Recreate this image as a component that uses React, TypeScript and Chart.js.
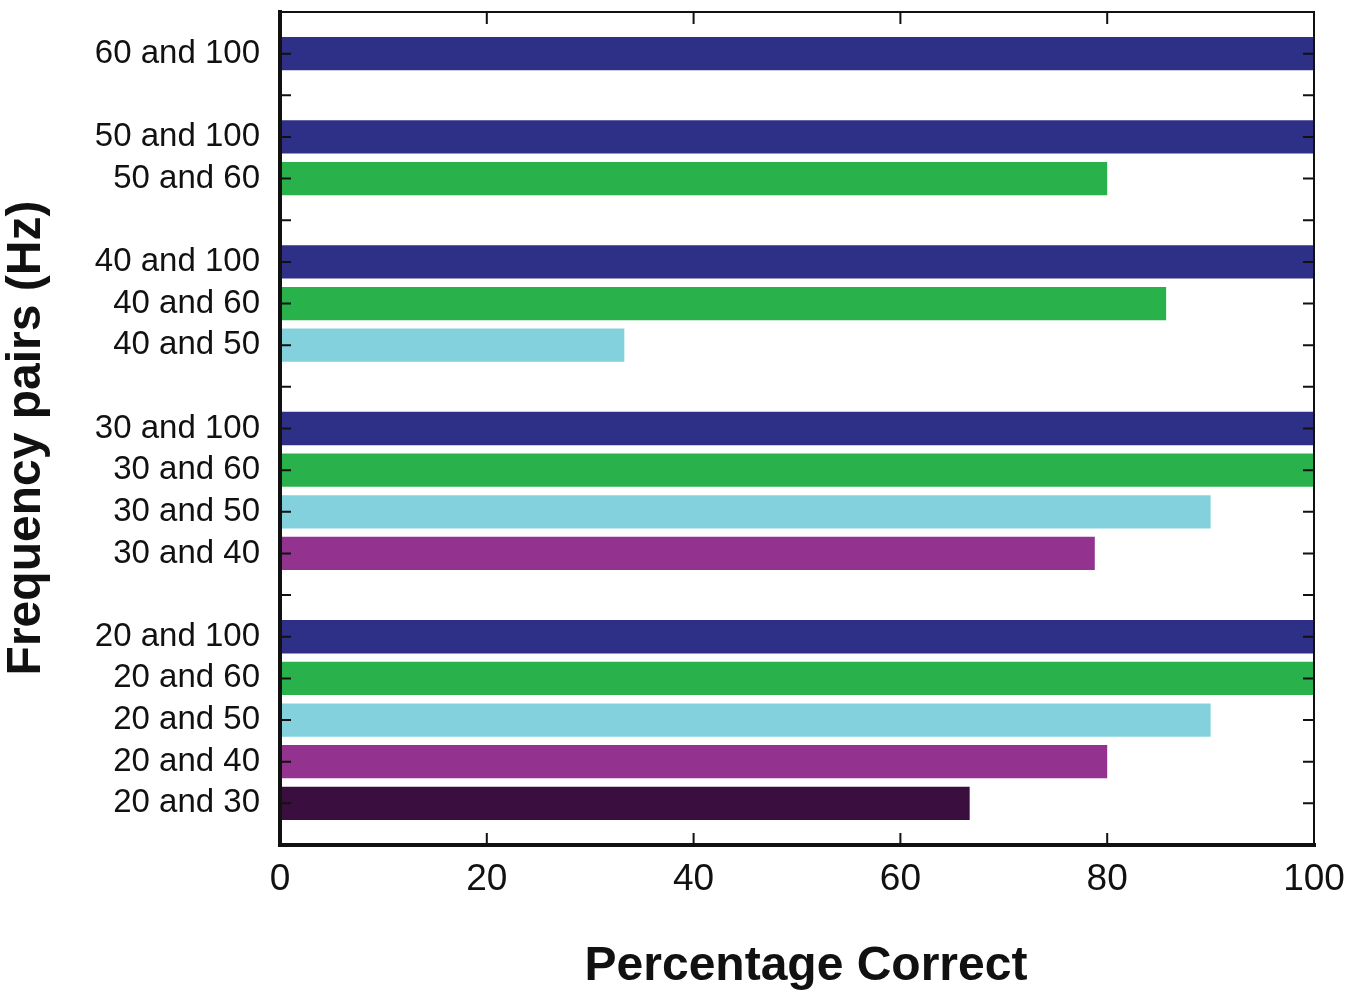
import { useEffect, useRef } from "react";
import { Chart, registerables, type Plugin } from "chart.js";

Chart.register(...registerables);

// rows top to bottom, "" = spacer row between groups
const pairLabels = [
  "",
  "60 and 100",
  "",
  "50 and 100",
  "50 and 60",
  "",
  "40 and 100",
  "40 and 60",
  "40 and 50",
  "",
  "30 and 100",
  "30 and 60",
  "30 and 50",
  "30 and 40",
  "",
  "20 and 100",
  "20 and 60",
  "20 and 50",
  "20 and 40",
  "20 and 30",
  "",
];

const percentCorrect: (number | null)[] = [
  null, 100, null, 100, 80, null, 100, 85.7, 33.3, null,
  100, 100, 90, 78.8, null, 100, 100, 90, 80, 66.7, null,
];

const xTicks = [0, 20, 40, 60, 80, 100];

const xTitle = "Percentage Correct";
const yTitle = "Frequency pairs (Hz)";

// colour by the higher frequency of the pair
const partnerColors: Record<string, string> = {
  "100": "#2e3087",
  "60": "#29b24c",
  "50": "#82d1dc",
  "40": "#93338f",
  "30": "#3a0e3f",
};

const FONT = "'Liberation Sans', Arial, Helvetica, sans-serif";

const framePlugin: Plugin<"bar"> = {
  id: "frame",
  afterDraw(chart) {
    const { ctx, chartArea, scales } = chart;
    const { left, right, top, bottom } = chartArea;
    const x = scales.x;
    const y = scales.y;
    ctx.save();
    ctx.strokeStyle = "#111";
    ctx.lineCap = "square";

    // inward ticks
    ctx.lineWidth = 2;
    ctx.beginPath();
    for (let i = 1; i < pairLabels.length - 1; i++) {
      const py = y.getPixelForTick(i);
      ctx.moveTo(left, py);
      ctx.lineTo(left + 10, py);
      ctx.moveTo(right - 10, py);
      ctx.lineTo(right, py);
    }
    xTicks.slice(1, -1).forEach((v) => {
      const px = x.getPixelForValue(v);
      ctx.moveTo(px, bottom);
      ctx.lineTo(px, bottom - 11);
      ctx.moveTo(px, top);
      ctx.lineTo(px, top + 11);
    });
    ctx.stroke();

    // thin top / right
    ctx.lineWidth = 2;
    ctx.beginPath();
    ctx.moveTo(left, top);
    ctx.lineTo(right, top);
    ctx.lineTo(right, bottom);
    ctx.stroke();

    // thick left / bottom
    ctx.lineWidth = 4;
    ctx.beginPath();
    ctx.moveTo(left, top);
    ctx.lineTo(left, bottom);
    ctx.lineTo(right, bottom);
    ctx.stroke();

    // axis titles
    ctx.fillStyle = "#111";
    ctx.font = `bold 48px ${FONT}`;
    ctx.textAlign = "center";
    ctx.textBaseline = "alphabetic";
    ctx.fillText(xTitle, 806, 980);
    ctx.translate(40, 438);
    ctx.rotate(-Math.PI / 2);
    ctx.fillText(yTitle, 0, 0);
    ctx.restore();
  },
};

export default function App() {
  const canvasRef = useRef<HTMLCanvasElement>(null);

  useEffect(() => {
    if (!canvasRef.current) return;
    const colors = pairLabels.map((l) => partnerColors[l.split(" and ")[1]] ?? "#000");

    const chart = new Chart(canvasRef.current, {
      type: "bar",
      data: {
        labels: pairLabels,
        datasets: [
          {
            data: percentCorrect,
            backgroundColor: colors,
            borderWidth: 0,
            categoryPercentage: 1,
            barPercentage: 0.8,
          },
        ],
      },
      options: {
        indexAxis: "y",
        animation: false,
        responsive: true,
        maintainAspectRatio: false,
        layout: { padding: { top: 12, right: 36, left: 0, bottom: 0 } },
        plugins: {
          legend: { display: false },
          tooltip: { enabled: false },
        },
        scales: {
          x: {
            min: 0,
            max: 100,
            grid: { display: false },
            border: { display: false },
            afterBuildTicks: (scale) => {
              scale.ticks = xTicks.map((v) => ({ value: v }));
            },
            afterFit: (scale) => {
              scale.height = 156;
              scale.paddingLeft = 0;
              scale.paddingRight = 0;
            },
            ticks: {
              color: "#111",
              padding: 5,
              maxRotation: 0,
              font: { family: FONT, size: 37 },
            },
          },
          y: {
            type: "category",
            offset: false,
            grid: { display: false },
            border: { display: false },
            afterFit: (scale) => {
              scale.width = 280;
              scale.paddingTop = 0;
              scale.paddingBottom = 0;
            },
            ticks: {
              color: "#111",
              padding: 12,
              autoSkip: false,
              font: { family: FONT, size: 33 },
            },
          },
        },
      },
      plugins: [framePlugin],
    });

    return () => {
      chart.destroy();
    };
  }, []);

  return (
    <div
      style={{
        position: "fixed",
        left: 0,
        top: 0,
        width: 1350,
        height: 1001,
        background: "#fff",
      }}
    >
      <canvas ref={canvasRef} />
    </div>
  );
}
